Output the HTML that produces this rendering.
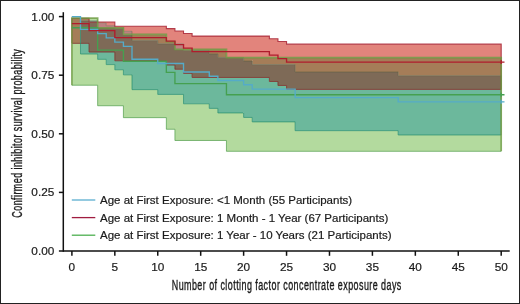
<!DOCTYPE html>
<html><head><meta charset="utf-8"><style>
html,body{margin:0;padding:0;background:#fff;}
svg{display:block;will-change:transform;}
text{font-family:"Liberation Sans", sans-serif;fill:#1a1a1a;stroke:#1a1a1a;stroke-width:0.2;}
.ttl{stroke:#1a1a1a;stroke-width:0.35;letter-spacing:0.7px;}
</style></head><body>
<svg width="520" height="304" viewBox="0 0 520 304">
<rect x="0" y="0" width="520" height="304" fill="#fff"/>
<path d="M71.90 43.35H80.49V85.23H71.90ZM71.90 18.21H80.49V18.37H71.90ZM80.49 54.02H89.07V85.23H80.49ZM80.49 18.21H89.07V18.37H80.49ZM89.07 54.02H97.66V85.23H89.07ZM89.07 18.21H97.66V20.80H89.07ZM97.66 59.33H106.24V105.74H97.66ZM106.24 64.59H114.83V105.74H106.24ZM114.83 69.77H123.42V105.74H114.83ZM123.42 74.85H132.00V117.65H123.42ZM132.00 89.63H157.76V117.65H132.00ZM157.76 94.42H166.35V117.65H157.76ZM166.35 94.42H174.93V129.26H166.35ZM174.93 94.42H183.52V140.48H174.93ZM183.52 103.79H192.10V140.48H183.52ZM192.10 103.79H209.28V140.48H192.10ZM209.28 108.39H217.86V140.48H209.28ZM217.86 112.94H226.45V140.48H217.86ZM226.45 112.94H243.62V151.30H226.45ZM243.62 117.44H252.21V151.30H243.62ZM252.21 121.89H269.38V151.30H252.21ZM269.38 121.89H277.96V151.30H269.38ZM277.96 121.89H286.55V151.30H277.96ZM286.55 121.89H295.14V151.30H286.55ZM295.14 130.66H398.17V151.30H295.14ZM398.17 134.97H501.20V151.30H398.17Z" fill="#b3da9e" shape-rendering="auto"/>
<path d="M71.90 18.37H80.49V43.35H71.90ZM80.49 18.37H89.07V20.80H80.49ZM114.83 27.96H123.42V28.45H114.83ZM132.00 34.44H157.76V40.57H132.00ZM157.76 34.44H166.35V43.82H157.76ZM166.35 41.62H174.93V43.82H166.35ZM183.52 49.37H192.10V50.52H183.52ZM192.10 49.37H209.28V50.52H192.10ZM209.28 49.37H217.86V53.97H209.28ZM217.86 49.37H226.45V57.47H217.86ZM243.62 57.61H252.21V61.02H243.62ZM252.21 57.61H269.38V64.62H252.21ZM269.38 57.61H277.96V64.62H269.38ZM277.96 57.61H286.55V64.62H277.96ZM286.55 57.61H295.14V64.62H286.55ZM295.14 57.61H398.17V71.96H295.14ZM398.17 57.61H501.20V75.70H398.17Z" fill="#a57d58" shape-rendering="auto"/>
<path d="M80.49 43.35H89.07V54.02H80.49ZM89.07 52.06H97.66V54.02H89.07ZM89.07 20.80H97.66V21.95H89.07ZM97.66 52.06H106.24V59.33H97.66ZM106.24 52.06H114.83V64.59H106.24ZM114.83 60.79H123.42V69.77H114.83ZM123.42 60.79H132.00V74.85H123.42ZM132.00 60.79H157.76V89.63H132.00ZM157.76 60.79H166.35V94.42H157.76ZM166.35 65.05H174.93V94.42H166.35ZM174.93 69.25H183.52V94.42H174.93ZM183.52 73.38H192.10V103.79H183.52ZM192.10 77.46H209.28V103.79H192.10ZM209.28 77.46H217.86V108.39H209.28ZM217.86 77.46H226.45V112.94H217.86ZM226.45 77.46H243.62V112.94H226.45ZM243.62 77.46H252.21V117.44H243.62ZM252.21 77.46H269.38V121.89H252.21ZM269.38 81.49H277.96V121.89H269.38ZM277.96 85.46H286.55V121.89H277.96ZM286.55 89.40H295.14V121.89H286.55ZM295.14 89.40H398.17V130.66H295.14ZM398.17 89.40H501.20V134.97H398.17Z" fill="#6cb89c" shape-rendering="auto"/>
<path d="M80.49 20.80H89.07V43.35H80.49ZM89.07 21.95H97.66V52.06H89.07ZM97.66 27.96H106.24V52.06H97.66ZM106.24 27.96H114.83V52.06H106.24ZM114.83 28.45H123.42V60.79H114.83ZM123.42 34.44H132.00V60.79H123.42ZM132.00 40.57H157.76V60.79H132.00ZM157.76 43.82H166.35V60.79H157.76ZM166.35 43.82H174.93V65.05H166.35ZM174.93 49.37H183.52V69.25H174.93ZM183.52 50.52H192.10V73.38H183.52ZM192.10 50.52H209.28V77.46H192.10ZM209.28 53.97H217.86V77.46H209.28ZM217.86 57.47H226.45V77.46H217.86ZM226.45 57.61H243.62V77.46H226.45ZM243.62 61.02H252.21V77.46H243.62ZM252.21 64.62H269.38V77.46H252.21ZM269.38 64.62H277.96V81.49H269.38ZM277.96 64.62H286.55V85.46H277.96ZM286.55 64.62H295.14V89.40H286.55ZM295.14 71.96H398.17V89.40H295.14ZM398.17 75.70H501.20V89.40H398.17Z" fill="#7e6a57" shape-rendering="auto"/>
<path d="M97.66 23.15H106.24V27.96H97.66ZM106.24 25.71H114.83V27.96H106.24ZM123.42 31.32H132.00V34.44H123.42ZM174.93 43.82H183.52V49.37H174.93ZM226.45 57.47H243.62V57.61H226.45Z" fill="#be8082" shape-rendering="auto"/>
<path d="M97.66 21.95H106.24V23.15H97.66ZM106.24 21.95H114.83V25.71H106.24ZM114.83 26.27H123.42V27.96H114.83ZM123.42 26.27H132.00V31.32H123.42ZM132.00 26.27H157.76V34.44H132.00ZM157.76 26.27H166.35V34.44H157.76ZM166.35 28.61H174.93V41.62H166.35ZM174.93 31.03H183.52V43.82H174.93ZM183.52 33.54H192.10V49.37H183.52ZM192.10 36.11H209.28V49.37H192.10ZM209.28 36.11H217.86V49.37H209.28ZM217.86 36.11H226.45V49.37H217.86ZM226.45 36.11H243.62V57.47H226.45ZM243.62 36.11H252.21V57.61H243.62ZM252.21 36.11H269.38V57.61H252.21ZM269.38 38.74H277.96V57.61H269.38ZM277.96 41.43H286.55V57.61H277.96ZM286.55 44.17H295.14V57.61H286.55ZM295.14 44.17H398.17V57.61H295.14ZM398.17 44.17H501.20V57.61H398.17Z" fill="#e2847c" shape-rendering="auto"/>
<path d="M71.90 43.35V18.37H89.07V21.95H114.83V26.27H166.35V28.61H174.93V31.03H183.52V33.54H192.10V36.11H269.38V38.74H277.96V41.43H286.55V44.17H501.20V89.40" fill="none" stroke="#a82535" stroke-opacity="0.85" stroke-width="1.1"/>
<path d="M71.90 43.35H89.07V52.06H114.83V60.79H166.35V65.05H174.93V69.25H183.52V73.38H192.10V77.46H269.38V81.49H277.96V85.46H286.55V89.40H501.20" fill="none" stroke="#7a2a25" stroke-opacity="0.85" stroke-width="0.9"/>
<path d="M71.90 16.60V16.60H80.49V20.80H97.66V23.15H106.24V25.71H114.83V28.45H123.42V31.32H132.00V40.57H157.76V43.82H183.52V50.52H209.28V53.97H217.86V57.47H243.62V61.02H252.21V64.62H295.14V71.96H398.17V75.70H501.20V134.97" fill="none" stroke="#4a5a3a" stroke-opacity="0.45" stroke-width="0.9"/>
<path d="M71.90 16.60H80.49V54.02H97.66V59.33H106.24V64.59H114.83V69.77H123.42V74.85H132.00V89.63H157.76V94.42H183.52V103.79H209.28V108.39H217.86V112.94H243.62V117.44H252.21V121.89H295.14V130.66H398.17V134.97H501.20" fill="none" stroke="#1f8a68" stroke-opacity="0.75" stroke-width="0.9"/>
<path d="M71.90 85.23V18.21H97.66V27.96H123.42V34.44H166.35V41.62H174.93V49.37H226.45V57.61H501.20V151.30" fill="none" stroke="#6a9a40" stroke-opacity="0.8" stroke-width="1.7"/>
<path d="M71.90 85.23H97.66V105.74H123.42V117.65H166.35V129.26H174.93V140.48H226.45V151.30H501.20" fill="none" stroke="#4a9a45" stroke-opacity="0.75" stroke-width="0.9"/>
<path d="M71.90 27.76H97.66V50.09H123.42V61.25H166.35V72.41H174.93V83.57H226.45V94.73H501.20H504.50" fill="none" stroke="#45a050" stroke-width="1.35"/>
<path d="M501.20 92.73V96.73" stroke="#45a050" stroke-width="1.35"/>
<path d="M71.90 16.60H80.49V29.39H97.66V33.65H106.24V37.91H114.83V42.17H123.42V46.43H132.00V59.22H157.76V63.48H183.52V72.00H209.28V76.27H217.86V80.53H243.62V84.79H252.21V89.05H295.14V97.57H398.17V101.84H501.20H504.50" fill="none" stroke="#55abc8" stroke-width="1.35"/>
<path d="M501.20 99.84V103.84" stroke="#55abc8" stroke-width="1.35"/>
<path d="M71.90 23.60H89.07V30.59H114.83V37.59H166.35V41.09H174.93V44.59H183.52V48.09H192.10V51.59H269.38V55.08H277.96V58.58H286.55V62.08H501.20H504.50" fill="none" stroke="#b01c2c" stroke-width="1.35"/>
<path d="M501.20 60.08V64.08" stroke="#b01c2c" stroke-width="1.35"/>
<path d="M63.3 12.20V251.75" stroke="#111" stroke-width="1.5"/>
<path d="M58.9 251.00H509.70" stroke="#111" stroke-width="1.5"/>
<path d="M58.9 192.40H63.3" stroke="#111" stroke-width="1.5"/>
<path d="M58.9 133.80H63.3" stroke="#111" stroke-width="1.5"/>
<path d="M58.9 75.20H63.3" stroke="#111" stroke-width="1.5"/>
<path d="M58.9 16.60H63.3" stroke="#111" stroke-width="1.5"/>
<path d="M71.90 251.00V255.80" stroke="#111" stroke-width="1.5"/>
<path d="M114.83 251.00V255.80" stroke="#111" stroke-width="1.5"/>
<path d="M157.76 251.00V255.80" stroke="#111" stroke-width="1.5"/>
<path d="M200.69 251.00V255.80" stroke="#111" stroke-width="1.5"/>
<path d="M243.62 251.00V255.80" stroke="#111" stroke-width="1.5"/>
<path d="M286.55 251.00V255.80" stroke="#111" stroke-width="1.5"/>
<path d="M329.48 251.00V255.80" stroke="#111" stroke-width="1.5"/>
<path d="M372.41 251.00V255.80" stroke="#111" stroke-width="1.5"/>
<path d="M415.34 251.00V255.80" stroke="#111" stroke-width="1.5"/>
<path d="M458.27 251.00V255.80" stroke="#111" stroke-width="1.5"/>
<path d="M501.20 251.00V255.80" stroke="#111" stroke-width="1.5"/>
<text x="54.3" y="255.00" text-anchor="end" font-size="11.8">0.00</text>
<text x="54.3" y="196.40" text-anchor="end" font-size="11.8">0.25</text>
<text x="54.3" y="137.80" text-anchor="end" font-size="11.8">0.50</text>
<text x="54.3" y="79.20" text-anchor="end" font-size="11.8">0.75</text>
<text x="54.3" y="20.60" text-anchor="end" font-size="11.8">1.00</text>
<text x="71.90" y="270.80" text-anchor="middle" font-size="11.8">0</text>
<text x="114.83" y="270.80" text-anchor="middle" font-size="11.8">5</text>
<text x="157.76" y="270.80" text-anchor="middle" font-size="11.8">10</text>
<text x="200.69" y="270.80" text-anchor="middle" font-size="11.8">15</text>
<text x="243.62" y="270.80" text-anchor="middle" font-size="11.8">20</text>
<text x="286.55" y="270.80" text-anchor="middle" font-size="11.8">25</text>
<text x="329.48" y="270.80" text-anchor="middle" font-size="11.8">30</text>
<text x="372.41" y="270.80" text-anchor="middle" font-size="11.8">35</text>
<text x="415.34" y="270.80" text-anchor="middle" font-size="11.8">40</text>
<text x="458.27" y="270.80" text-anchor="middle" font-size="11.8">45</text>
<text x="501.20" y="270.80" text-anchor="middle" font-size="11.8">50</text>
<text class="ttl" transform="translate(286.75 289.50) scale(0.650 1)" font-size="13.75" text-anchor="middle">Number of clotting factor concentrate exposure days</text>
<text class="ttl" transform="translate(21.60 133.20) rotate(-90) scale(0.650 1)" font-size="13.75" text-anchor="middle">Confirmed inhibitor survival probability</text>
<path d="M71.8 200.00H95.3" stroke="#5aaed0" stroke-width="1.3"/>
<text x="100.0" y="203.90" font-size="11.5">Age at First Exposure: &lt;1 Month (55 Participants)</text>
<path d="M71.8 217.60H95.3" stroke="#a01c40" stroke-width="1.3"/>
<text x="100.0" y="221.50" font-size="11.5">Age at First Exposure: 1 Month - 1 Year (67 Participants)</text>
<path d="M71.8 235.20H95.3" stroke="#4caf50" stroke-width="1.3"/>
<text x="100.0" y="239.10" font-size="11.5">Age at First Exposure: 1 Year - 10 Years (21 Participants)</text>
<rect x="0.5" y="0.5" width="519" height="303" fill="none" stroke="#222" stroke-width="1"/>
</svg>
</body></html>
